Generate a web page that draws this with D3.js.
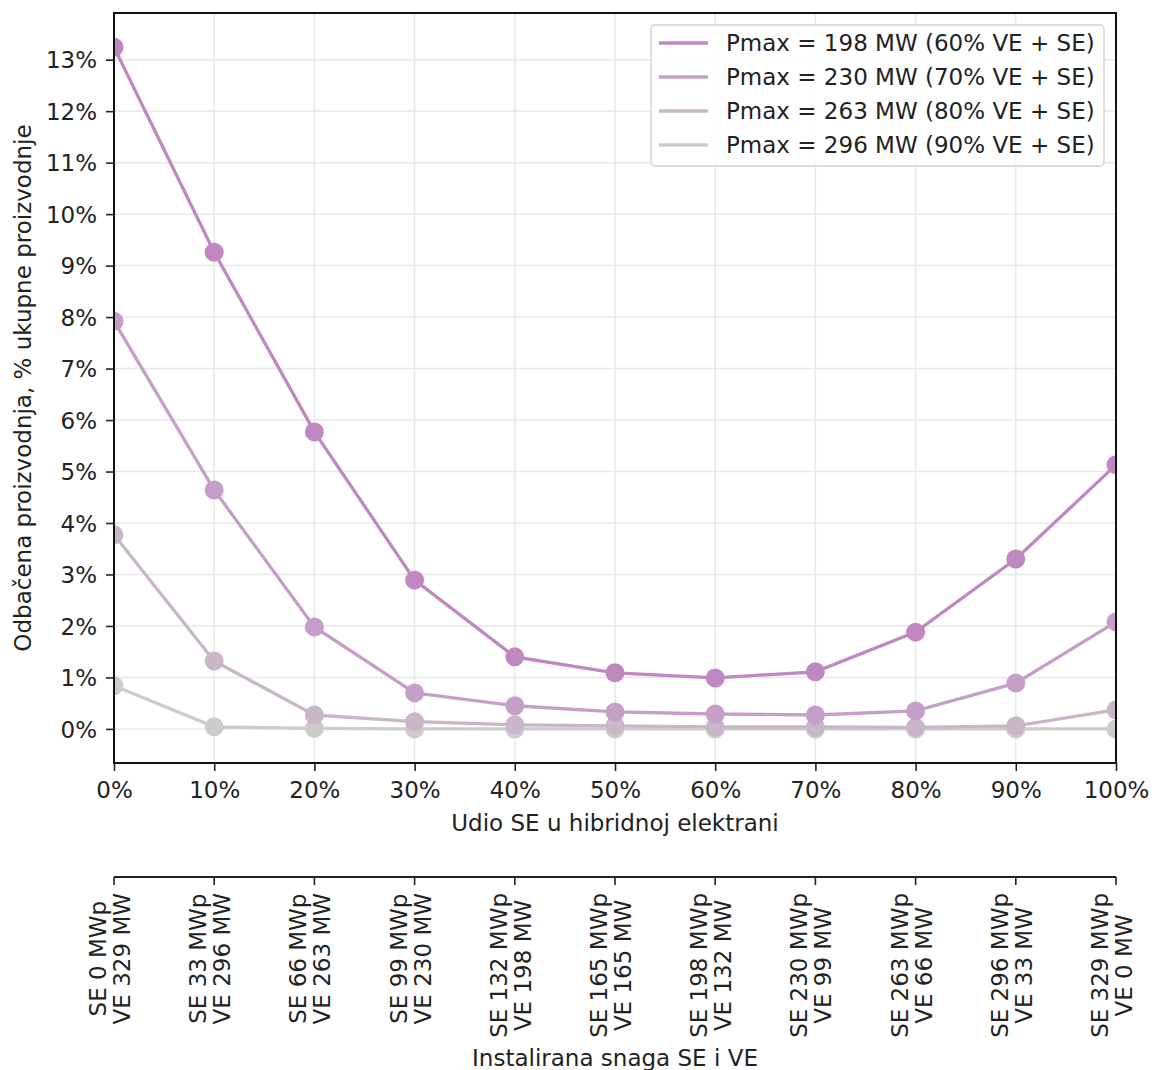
<!DOCTYPE html>
<html>
<head>
<meta charset="utf-8">
<script src="https://cdn.jsdelivr.net/npm/d3@7"></script>
<style>
  body { margin: 0; background: #fff; }
  svg { display: block; font-family: "DejaVu Sans", sans-serif; }
</style>
</head>
<body>
<svg id="chart" width="1152" height="1070"></svg>
<script>
// ---- data ----
const shares = [0, 10, 20, 30, 40, 50, 60, 70, 80, 90, 100];
const installedSE = [0, 33, 66, 99, 132, 165, 198, 230, 263, 296, 329];
const installedVE = [329, 296, 263, 230, 198, 165, 132, 99, 66, 33, 0];
const seriesNames = [
  "Pmax = 198 MW (60% VE + SE)",
  "Pmax = 230 MW (70% VE + SE)",
  "Pmax = 263 MW (80% VE + SE)",
  "Pmax = 296 MW (90% VE + SE)"
];
const seriesColors = ["#bf88c0", "#c59fc7", "#c9b6c9", "#cccccc"];
const s198 = [13.24, 9.26, 5.77, 2.89, 1.40, 1.09, 0.99, 1.11, 1.88, 3.30, 5.13];
const s230 = [7.92, 4.64, 1.98, 0.70, 0.45, 0.33, 0.29, 0.27, 0.35, 0.89, 2.08];
const s263 = [3.77, 1.32, 0.27, 0.14, 0.08, 0.06, 0.04, 0.04, 0.03, 0.06, 0.37];
const s296 = [0.84, 0.04, 0.01, 0.00, 0.00, 0.00, 0.00, 0.00, 0.00, 0.00, 0.00];
const allSeries = [s198, s230, s263, s296];
const yTicks = [0, 1, 2, 3, 4, 5, 6, 7, 8, 9, 10, 11, 12, 13];

// ---- layout ----
const L = 114, R = 1116, T = 13, B = 763;
const svg = d3.select("#chart");
const x = d3.scaleLinear().domain([0, 100]).range([L, R]);
const yMax = 13.24;
const pad = yMax * 0.05;
const y = d3.scaleLinear().domain([-pad, yMax + pad + 0.005]).range([B, T]);

// clip
svg.append("defs").append("clipPath").attr("id", "clip")
  .append("rect").attr("x", L).attr("y", T).attr("width", R - L).attr("height", B - T);

// grid
const grid = svg.append("g");
grid.selectAll("line.gx").data(shares).join("line")
  .attr("x1", d => x(d)).attr("x2", d => x(d)).attr("y1", T).attr("y2", B)
  .attr("stroke", "#e8e8e8").attr("stroke-width", 1.5);
grid.selectAll("line.gy").data(yTicks).join("line")
  .attr("x1", L).attr("x2", R).attr("y1", d => y(d)).attr("y2", d => y(d))
  .attr("stroke", "#e8e8e8").attr("stroke-width", 1.5);

// series (draw lightest first so darkest on top)
const plot = svg.append("g").attr("clip-path", "url(#clip)");
const line = d3.line().x((d, i) => x(shares[i])).y(d => y(d));
for (let k = allSeries.length - 1; k >= 0; k--) {
  const g = plot.append("g");
  g.append("path").datum(allSeries[k]).attr("d", line)
    .attr("fill", "none").attr("stroke", seriesColors[k]).attr("stroke-width", 3.3);
  g.selectAll("circle").data(allSeries[k]).join("circle")
    .attr("cx", (d, i) => x(shares[i])).attr("cy", d => y(d)).attr("r", 9.5)
    .attr("fill", seriesColors[k]);
}

// axes
const fs = "23px";
const xAxis = svg.append("g").attr("transform", `translate(0,${B})`)
  .call(d3.axisBottom(x).tickValues(shares).tickFormat(d => d + "%").tickSize(8).tickPadding(6));
const yAxis = svg.append("g").attr("transform", `translate(${L},0)`)
  .call(d3.axisLeft(y).tickValues(yTicks).tickFormat(d => d + "%").tickSize(8).tickPadding(9));
[xAxis, yAxis].forEach(a => {
  a.selectAll("text").attr("font-size", fs).attr("fill", "#222").attr("font-family", "DejaVu Sans");
  a.selectAll(".tick line").attr("stroke", "#222").attr("stroke-width", 1.6);
  a.select(".domain").remove();
});
xAxis.selectAll("text").attr("dy", "0.9em");
yAxis.selectAll("text").attr("dy", "0.36em");

// spines
svg.append("rect").attr("x", L).attr("y", T).attr("width", R - L).attr("height", B - T)
  .attr("fill", "none").attr("stroke", "#111").attr("stroke-width", 2);

// axis labels
svg.append("text").attr("x", (L + R) / 2).attr("y", 831).attr("text-anchor", "middle")
  .attr("font-size", fs).attr("fill", "#222").text("Udio SE u hibridnoj elektrani");
svg.append("text").attr("transform", `translate(31,${(T + B) / 2}) rotate(-90)`)
  .attr("text-anchor", "middle").attr("font-size", fs).attr("fill", "#222")
  .text("Odbačena proizvodnja, % ukupne proizvodnje");

// secondary axis
const axY = 877;
const sec = svg.append("g");
sec.append("line").attr("x1", L).attr("x2", R).attr("y1", axY).attr("y2", axY)
  .attr("stroke", "#222").attr("stroke-width", 2);
shares.forEach((s, i) => {
  const cx = x(s);
  sec.append("line").attr("x1", cx).attr("x2", cx).attr("y1", axY).attr("y2", axY + 8)
    .attr("stroke", "#222").attr("stroke-width", 1.6);
  const g = sec.append("g").attr("transform", `translate(${cx},893) rotate(-90)`);
  const t1 = g.append("text").attr("font-size", fs).attr("fill", "#222").attr("text-anchor", "middle")
    .attr("y", -8).text(`SE ${installedSE[i]} MWp`);
  const t2 = g.append("text").attr("font-size", fs).attr("fill", "#222").attr("text-anchor", "middle")
    .attr("y", 16).text(`VE ${installedVE[i]} MW`);
  const w = Math.max(t1.node().getComputedTextLength(), t2.node().getComputedTextLength());
  t1.attr("x", -w / 2);
  t2.attr("x", -w / 2);
});
svg.append("text").attr("x", (L + R) / 2).attr("y", 1066).attr("text-anchor", "middle")
  .attr("font-size", fs).attr("fill", "#222").text("Instalirana snaga SE i VE");

// legend
const lg = svg.append("g");
lg.append("rect").attr("x", 651).attr("y", 25).attr("width", 453).attr("height", 141)
  .attr("rx", 4).attr("fill", "#fff").attr("fill-opacity", 0.85)
  .attr("stroke", "#d0d0d0").attr("stroke-width", 1.3);
seriesNames.forEach((n, k) => {
  const yy = 43 + k * 34;
  lg.append("line").attr("x1", 659).attr("x2", 708).attr("y1", yy).attr("y2", yy)
    .attr("stroke", seriesColors[k]).attr("stroke-width", 3.3);
  lg.append("text").attr("x", 726).attr("y", yy).attr("dy", "0.36em")
    .attr("font-size", fs).attr("fill", "#222").text(n);
});
</script>
</body>
</html>
